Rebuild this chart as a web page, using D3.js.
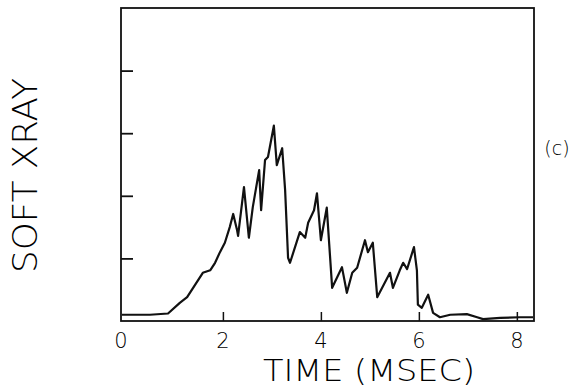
<!DOCTYPE html>
<html>
<head>
<meta charset="utf-8">
<script src="https://cdn.jsdelivr.net/npm/d3@7"></script>
<style>
  body { margin: 0; background: #fff; }
  text { font-family: "DejaVu Sans", sans-serif; font-weight: 200; fill: #000; }
</style>
</head>
<body>
<svg id="chart"></svg>
<script>
const width = 574;
const height = 387;

// traced soft x-ray signal (time in msec, arbitrary units)
const timeMs = [-0.06, 0.51, 0.88, 1.12, 1.27, 1.59, 1.74, 1.84, 1.94, 2.04, 2.14, 2.21, 2.29, 2.31, 2.33,
  2.43, 2.53, 2.61, 2.74, 2.78, 2.86, 2.92, 3.04, 3.10, 3.21, 3.27, 3.33, 3.37, 3.57, 3.68, 3.74,
  3.86, 3.92, 4.00, 4.12, 4.23, 4.43, 4.53, 4.64, 4.74, 4.90, 4.96, 5.06, 5.15, 5.41, 5.47, 5.61,
  5.68, 5.76, 5.90, 5.96, 5.98, 6.06, 6.19, 6.29, 6.43, 6.64, 6.98, 7.19, 7.31, 7.66, 8.06, 8.33];
const xray = [0.10, 0.10, 0.12, 0.29, 0.38, 0.77, 0.81, 0.93, 1.10, 1.25, 1.50, 1.71, 1.45, 1.36, 1.49,
  2.14, 1.33, 1.82, 2.41, 1.77, 2.57, 2.62, 3.12, 2.49, 2.76, 2.09, 1.01, 0.93, 1.42, 1.33, 1.57,
  1.77, 2.04, 1.29, 1.81, 0.53, 0.86, 0.45, 0.77, 0.85, 1.29, 1.10, 1.25, 0.38, 0.77, 0.53, 0.81,
  0.93, 0.83, 1.18, 0.81, 0.26, 0.21, 0.42, 0.13, 0.06, 0.10, 0.11, 0.06, 0.03, 0.05, 0.06, 0.06];

const xTicks = [0, 2, 4, 6, 8];
const xTickMarks = [2, 4, 6, 8];
const yTickMarks = [1, 2, 3, 4];

const plotLeft = 121, plotRight = 534, plotTop = 8, plotBottom = 321;

const svg = d3.select("#chart")
  .attr("width", width)
  .attr("height", height);

const x = d3.scaleLinear().domain([-0.08, 8.35]).range([plotLeft, plotRight]);
const y = d3.scaleLinear().domain([0, 5]).range([plotBottom, plotTop]);

// frame
svg.append("rect")
  .attr("x", plotLeft)
  .attr("y", plotTop)
  .attr("width", plotRight - plotLeft)
  .attr("height", plotBottom - plotTop)
  .attr("fill", "none")
  .attr("stroke", "#111")
  .attr("stroke-width", 1.8);

// inward ticks, no y labels
svg.append("g")
  .attr("transform", `translate(0,${plotBottom})`)
  .call(d3.axisBottom(x).tickValues(xTickMarks).tickSize(-9).tickFormat(""))
  .call(g => g.select(".domain").remove())
  .call(g => g.selectAll("line").attr("stroke", "#111").attr("stroke-width", 1.5));

svg.append("g")
  .attr("transform", `translate(${plotLeft},0)`)
  .call(d3.axisLeft(y).tickValues(yTickMarks).tickSize(-12).tickFormat(""))
  .call(g => g.select(".domain").remove())
  .call(g => g.selectAll("line").attr("stroke", "#111").attr("stroke-width", 1.8));

// x tick labels
svg.append("g")
  .selectAll("text")
  .data(xTicks)
  .enter()
  .append("text")
  .attr("x", d => x(d) - (d === 0 ? 4 : 0))
  .attr("y", 348)
  .attr("text-anchor", "middle")
  .style("font-size", "21px")
  .text(d => d);

// signal trace
const pts = timeMs.map((t, i) => [t, xray[i]]);
const line = d3.line().x(d => x(d[0])).y(d => y(d[1]));

svg.append("path")
  .datum(pts)
  .attr("d", line)
  .attr("fill", "none")
  .attr("stroke", "#111")
  .attr("stroke-width", 2.2)
  .attr("stroke-linejoin", "round");

// titles
svg.append("text")
  .attr("x", 263)
  .attr("y", 381)
  .attr("textLength", 212)
  .attr("lengthAdjust", "spacingAndGlyphs")
  .style("font-size", "30px")
  .text("TIME (MSEC)");

svg.append("text")
  .attr("transform", "translate(37,273) rotate(-90)")
  .attr("textLength", 195)
  .attr("lengthAdjust", "spacingAndGlyphs")
  .style("font-size", "33px")
  .text("SOFT  XRAY");

svg.append("text")
  .attr("x", 557)
  .attr("y", 155)
  .attr("text-anchor", "middle")
  .style("font-size", "19px")
  .text("(c)");
</script>
</body>
</html>
